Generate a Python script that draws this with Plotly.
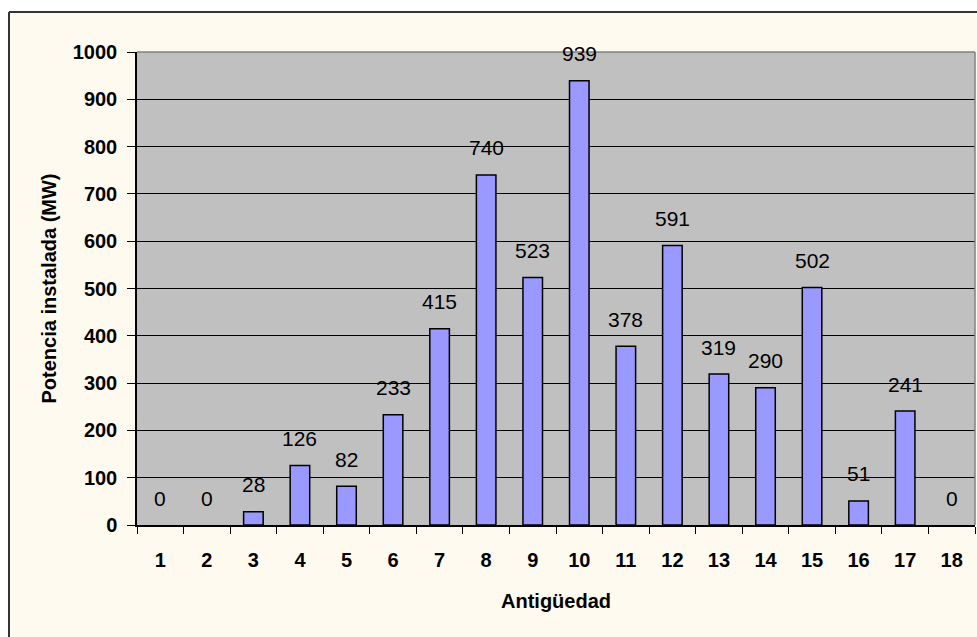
import plotly.graph_objects as go

categories = [str(i) for i in range(1, 19)]
values = [0, 0, 28, 126, 82, 233, 415, 740, 523, 939, 378, 591, 319, 290, 502, 51, 241, 0]
x_title = "Antigüedad"
y_title = "Potencia instalada (MW)"

FONT = "Liberation Sans, Arial, sans-serif"
CREAM = "#FFFAF0"

fig = go.Figure()
fig.add_trace(go.Bar(
    x=categories, y=values,
    width=0.42,
    marker=dict(color="#9999FF",
                line=dict(color="black", width=[1.5 if v > 0 else 0 for v in values])),
    hoverinfo="x+y",
))

annotations = []
for i, v in enumerate(values):
    annotations.append(dict(
        x=i, y=v, xref="x", yref="y", text=str(v), showarrow=False,
        yanchor="middle", yshift=27,
        font=dict(family=FONT, size=21, color="black"),
    ))

# screen-pixel layout (body margin removed via post_script)
FIG_W, FIG_H = 977, 637
L, R, T, B = 137, 975, 52, 525
W, H = R - L, B - T
def px(xs):
    return (xs - L) / W
def py(ys):
    return (B - ys) / H

shapes = [
    # white strips outside the chart frame
    dict(type="rect", xref="paper", yref="paper", x0=px(-20), x1=px(1100), y0=py(12), y1=py(-20),
         fillcolor="white", line=dict(width=0), layer="above"),
    dict(type="rect", xref="paper", yref="paper", x0=px(-20), x1=px(9), y0=py(800), y1=py(-20),
         fillcolor="white", line=dict(width=0), layer="above"),
    # chart frame (top and left visible)
    dict(type="line", xref="paper", yref="paper", x0=px(9), x1=px(1100), y0=py(12), y1=py(12),
         line=dict(color="#333333", width=2)),
    dict(type="line", xref="paper", yref="paper", x0=px(9), x1=px(9), y0=py(12), y1=py(800),
         line=dict(color="#333333", width=2)),
    # plot-area border top and right (gray)
    dict(type="line", xref="paper", yref="paper", x0=0, x1=1, y0=1, y1=1,
         line=dict(color="#808080", width=1.5)),
    dict(type="line", xref="paper", yref="paper", x0=1, x1=1, y0=0, y1=1,
         line=dict(color="#808080", width=1.5)),
]

fig.update_layout(
    width=FIG_W, height=FIG_H,
    margin=dict(l=L, r=FIG_W - R, t=T, b=FIG_H - B, autoexpand=False),
    paper_bgcolor=CREAM,
    plot_bgcolor="#C0C0C0",
    showlegend=False,
    font=dict(family=FONT, color="black"),
    annotations=annotations,
    shapes=shapes,
    xaxis=dict(
        type="category", range=[-0.5, 17.5], automargin=False,
        tickson="boundaries", ticks="outside", ticklen=7, tickcolor="black", tickwidth=1,
        showline=True, linecolor="black", linewidth=1.5,
        showgrid=False,
        tickfont=dict(family=FONT, size=20, weight="bold"),
        ticklabelstandoff=16,
        title=dict(text=x_title, font=dict(family=FONT, size=20, weight="bold"), standoff=24),
    ),
    yaxis=dict(
        range=[0, 1000], dtick=100, tick0=0, automargin=False,
        ticks="outside", ticklen=8, tickcolor="black", tickwidth=1,
        showline=True, linecolor="black", linewidth=1.5,
        showgrid=True, gridcolor="black", gridwidth=1,
        zeroline=False,
        tickfont=dict(family=FONT, size=20, weight="bold"),
        ticklabelstandoff=6,
        title=dict(text=y_title, font=dict(family=FONT, size=20, weight="bold"), standoff=11),
    ),
)

fig.write_html("out.html",
               config={"displayModeBar": False},
               post_script="document.body.style.margin='0';document.body.style.overflow='hidden';")
